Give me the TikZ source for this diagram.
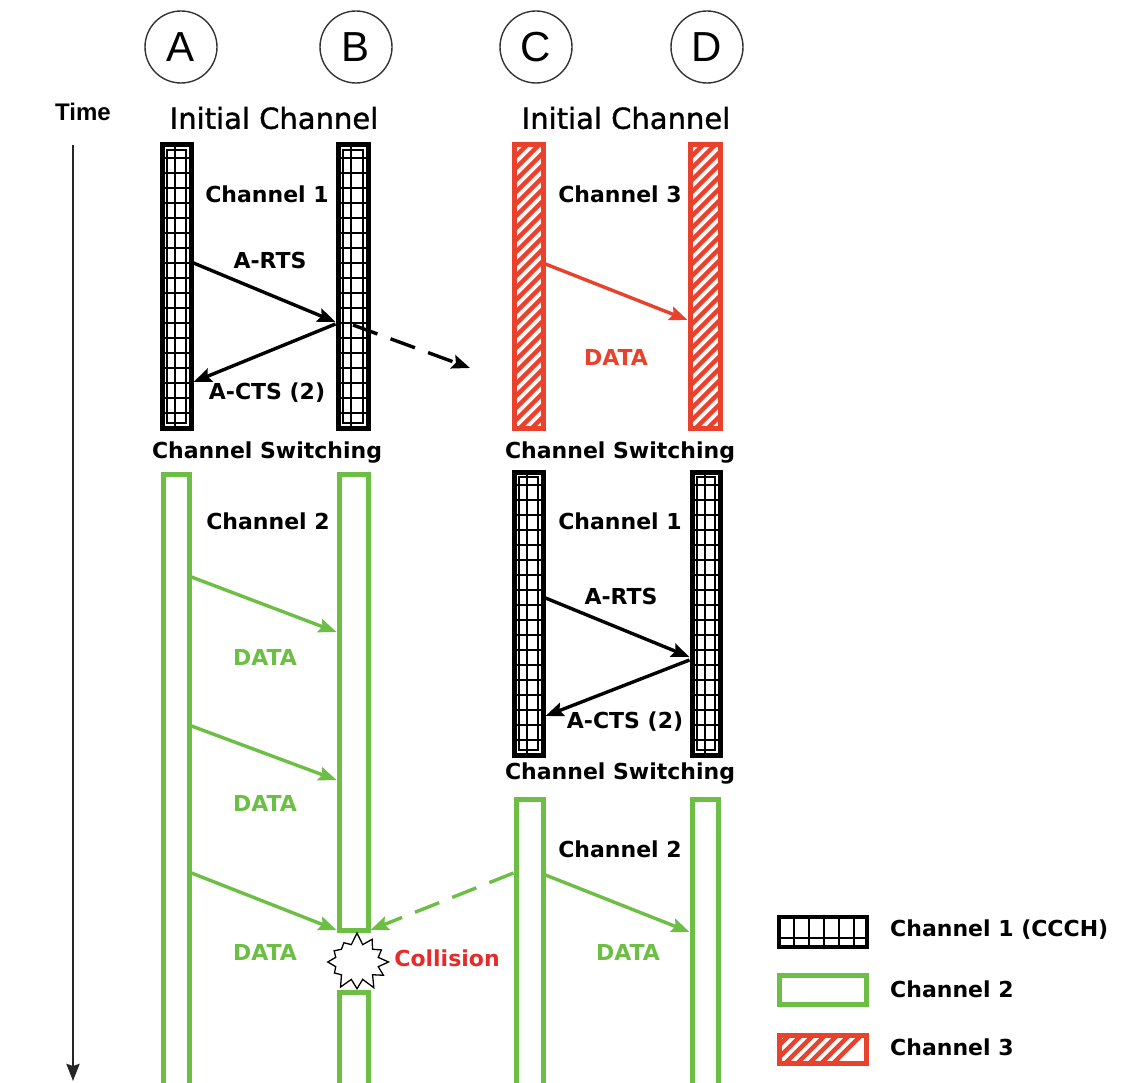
\documentclass[tikz,border=0pt]{standalone}
\usepackage{fontspec}
\setmainfont{DejaVu Sans}
\newfontfamily\lib{Liberation Sans}
\newfontfamily\bigfont[FakeBold=1.2]{DejaVu Sans}
\usetikzlibrary{arrows.meta,shapes.symbols}
\definecolor{gr}{HTML}{6DBE45}
\definecolor{rd}{HTML}{E8412C}
\definecolor{colred}{HTML}{E52B2B}
\tikzset{
  lbl/.style={font=\bfseries\fontsize{22}{25}\selectfont, inner sep=0},
  big/.style={font=\bigfont\fontsize{29}{32}\selectfont, inner sep=0},
  station/.style={circle, draw=black!80, line width=1.4pt, minimum size=72, inner sep=0, font=\lib\fontsize{42}{44}\selectfont},
  gridbar/.style={draw=black, line width=5pt, inner sep=0, fill=white,
    path picture={
      \draw[line width=1.4pt] ([shift={(5pt,5pt)}]path picture bounding box.south west) rectangle ([shift={(-5pt,-5pt)}]path picture bounding box.north east);
      \draw[line width=1.6pt] ([xshift=13pt]path picture bounding box.south west) -- ([xshift=13pt]path picture bounding box.north west);
      \foreach \t in {0,15,...,600}{\draw[line width=1.6pt] ([yshift=\t pt]path picture bounding box.south west) -- ([yshift=\t pt]path picture bounding box.south east);}
    }},
  hatchbar/.style={draw=rd, line width=5pt, inner sep=0, fill=white,
    path picture={
      \foreach \t in {-330,-318,...,60}{\draw[rd, line width=4.5pt] ([xshift=\t pt]path picture bounding box.south west) -- ++(330,-330);}
    }},
  greenbar/.style={draw=gr, line width=5pt, inner sep=0, fill=white},
  legendgrid/.style={draw=black, line width=4pt, inner sep=0, fill=white,
    path picture={
      \foreach \t in {15,30,...,90}{\draw[line width=1.6pt] ([xshift=\t pt]path picture bounding box.south west) -- ([xshift=\t pt]path picture bounding box.north west);}
      \draw[line width=1.6pt] ([yshift=9pt]path picture bounding box.south west) -- ([yshift=9pt]path picture bounding box.south east);
    }},
  arr/.style={line width=3.4pt, -{Stealth[length=18pt,width=14pt,inset=3pt]}},
}
\begin{document}
\begin{tikzpicture}[x=1pt,y=-1pt]
\useasboundingbox (0,0) rectangle (1140,1083);
\clip (0,0) rectangle (1140,1083);
\fill[white] (0,0) rectangle (1140,1083);

% stations
\node[station] (A) at (181,47) {A};
\node[station] (B) at (356,47) {B};
\node[station] (C) at (536,47) {C};
\node[station] (D) at (707,47) {D};

% time axis
\node[font=\lib\bfseries\fontsize{24}{26}\selectfont, inner sep=0] (time) at (83,112) {Time};
\coordinate (t0) at (73,145);
\coordinate (t1) at (73,1081);
\draw[line width=2.6pt, black!85, -{Stealth[length=17pt,width=13pt,inset=2pt]}] (t0) -- (t1);

\node[big] (ic1) at (274,118) {Initial Channel};
\node[big] (ic2) at (626,118) {Initial Channel};

% top bars
\node[gridbar, minimum width=29, minimum height=283] (A1) at (176.5,286.5) {};
\node[gridbar, minimum width=30, minimum height=283] (B1) at (353,286.5) {};
\node[hatchbar, minimum width=29, minimum height=283] (C1) at (528.5,286.5) {};
\node[hatchbar, minimum width=30, minimum height=283] (D1) at (705,286.5) {};

% switching labels
\node[lbl] (sw1) at (267,453) {Channel Switching};
\node[lbl] (sw2) at (620,453) {Channel Switching};
\node[lbl] (sw3) at (620,774) {Channel Switching};

% lower bars
\node[greenbar, minimum width=26, minimum height=620] (A2) at (176,784) {};
\node[greenbar, minimum width=29, minimum height=456] (B2) at (353.5,702) {};
\node[greenbar, minimum width=29, minimum height=100] (B3) at (353.5,1042) {};
\node[gridbar, minimum width=29, minimum height=283] (C2) at (528.5,613.5) {};
\node[gridbar, minimum width=28, minimum height=283] (D2) at (706,613.5) {};
\node[greenbar, minimum width=27, minimum height=300] (C3) at (529.5,949) {};
\node[greenbar, minimum width=26, minimum height=300] (D3) at (705,949) {};

% top-left exchange
\node[lbl] (c1a) at (267,194) {Channel 1};
\node[lbl] (rts1) at (270,260) {A-RTS};
\node[lbl] (cts1) at (267,393) {A-CTS (2)};
\draw[arr] (A1.east |- 0,263) -- (B1.west |- 0,322);
\draw[arr] (B1.west |- 0,324) -- (A1.east |- 0,382);
\coordinate (dashend) at (470,368);
\draw[line width=3.4pt, dash pattern=on 26pt off 14pt, -{Stealth[length=18pt,width=14pt,inset=3pt]}] (B1.center |- 0,325) -- (dashend);

% top-right
\node[lbl] (c3) at (620,194) {Channel 3};
\draw[arr, rd] (C1.east |- 0,264) -- (D1.west |- 0,320);
\node[lbl, text=rd] (data0) at (616,357) {DATA};

% lower-left
\node[lbl] (c2a) at (268,521) {Channel 2};
\draw[arr, gr] (A2.east |- 0,577) -- (B2.west |- 0,632);
\node[lbl, text=gr] (data1) at (265,657) {DATA};
\draw[arr, gr] (A2.east |- 0,726) -- (B2.west |- 0,780);
\node[lbl, text=gr] (data2) at (265,803) {DATA};
\draw[arr, gr] (A2.east |- 0,873) -- (B2.west |- 0,930);
\node[lbl, text=gr] (data3) at (265,952) {DATA};

% lower-right
\node[lbl] (c1b) at (620,521) {Channel 1};
\node[lbl] (rts2) at (621,596) {A-RTS};
\node[lbl] (cts2) at (625,722) {A-CTS (2)};
\draw[arr] (C2.east |- 0,598) -- (D2.west |- 0,657);
\draw[arr] (D2.west |- 0,660) -- (C2.east |- 0,716);

\node[lbl] (c2b) at (620,849) {Channel 2};
\draw[arr, gr] (C3.east |- 0,875) -- (D3.west |- 0,932);
\node[lbl, text=gr] (data4) at (628,952) {DATA};
\draw[arr, gr, dash pattern=on 26pt off 14pt] (C3.west |- 0,873) -- (B2.east |- 0,930);

% collision
\node[starburst, draw, fill=white, line width=1.3pt, minimum width=68pt, minimum height=60pt, starburst points=12, starburst point height=12pt, random starburst=7] (col) at (357,962) {};
\node[lbl, text=colred] (coltxt) at (447,958) {Collision};

% legend
\node[legendgrid, minimum width=88, minimum height=30] (L1) at (823,932) {};
\node[greenbar, minimum width=87, minimum height=29] (L2) at (823,990) {};
\node[hatchbar, minimum width=87, minimum height=28] (L3) at (823,1049) {};
\node[lbl, anchor=west] (L1t) at (890,930) {Channel 1 (CCCH)};
\node[lbl, anchor=west] (L2t) at (890,989) {Channel 2};
\node[lbl, anchor=west] (L3t) at (890,1047) {Channel 3};
\end{tikzpicture}
\end{document}
